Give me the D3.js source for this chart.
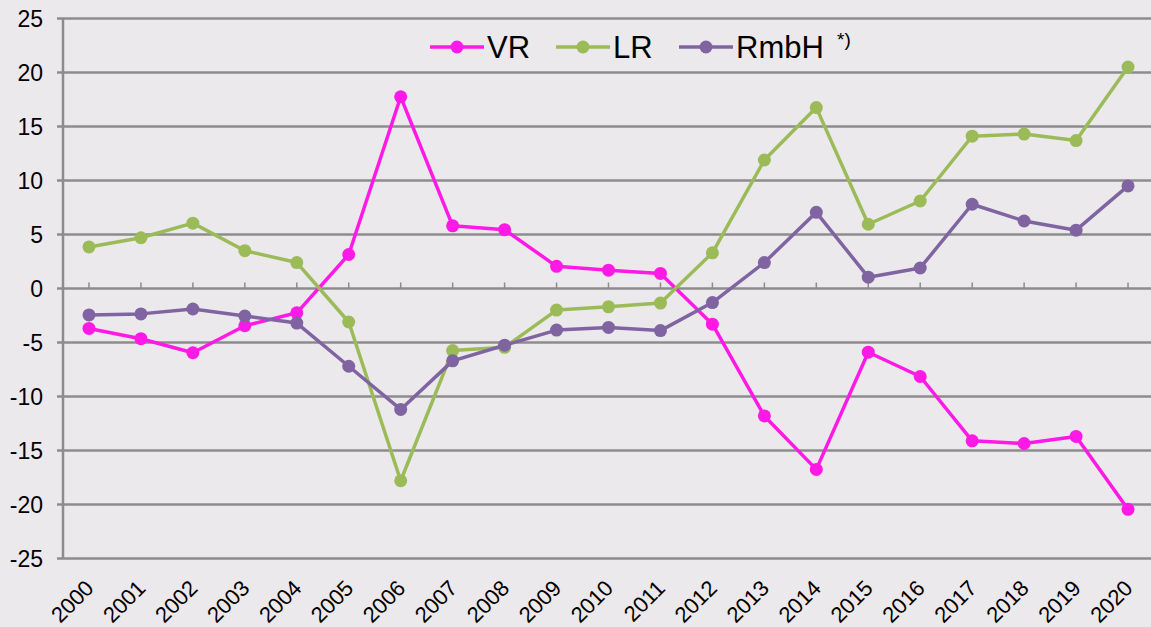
<!DOCTYPE html>
<html>
<head>
<meta charset="utf-8">
<script src="https://cdn.jsdelivr.net/npm/d3@7"></script>
<style>
	html, body { margin: 0; padding: 0; background: #ebe9ec; }
	svg { display: block; font-family: "Liberation Sans", Arial, sans-serif; }
</style>
</head>
<body>
<div id="chart"></div>
<script>
	'use strict';

	var years = ['2000','2001','2002','2003','2004','2005','2006','2007','2008','2009','2010',
		'2011','2012','2013','2014','2015','2016','2017','2018','2019','2020'];

	var vr = [-3.7, -4.65, -5.95, -3.45, -2.25, 3.15, 17.75, 5.8, 5.45, 2.05, 1.7,
		1.4, -3.3, -11.8, -16.75, -5.9, -8.15, -14.1, -14.35, -13.7, -20.45];

	var lr = [3.85, 4.7, 6.05, 3.5, 2.4, -3.1, -17.8, -5.75, -5.45, -2.0, -1.7,
		-1.35, 3.3, 11.9, 16.75, 5.95, 8.1, 14.1, 14.3, 13.7, 20.5];

	var rmbh = [-2.45, -2.35, -1.9, -2.55, -3.2, -7.2, -11.2, -6.7, -5.25, -3.85, -3.6,
		-3.9, -1.3, 2.4, 7.05, 1.05, 1.9, 7.8, 6.25, 5.4, 9.5];

	var yTicks = [25, 20, 15, 10, 5, 0, -5, -10, -15, -20, -25];

	var series = [
		{name: 'VR', values: vr, color: '#ff19e6'},
		{name: 'LR', values: lr, color: '#9bbb59'},
		{name: 'RmbH', values: rmbh, color: '#8064a2', note: '*)'}
	];

	var width = 1151, height = 627;
	var margin = {top: 18.5, right: -3, bottom: 68.5, left: 63};
	var gridColor = '#8c8c8c';

	var svg = d3.select('#chart')
		.append('svg')
		.attr('width', width)
		.attr('height', height);

	svg.append('rect')
		.attr('width', width)
		.attr('height', height)
		.attr('fill', '#ebe9ec');

	var x = d3.scaleBand()
		.domain(years)
		.range([margin.left, width - margin.right]);

	var y = d3.scaleLinear()
		.domain([-25, 25])
		.range([height - margin.bottom, margin.top]);

	var cx = function(i) { return x(years[i]) + x.bandwidth() / 2; };

	// gridlines + left ticks
	svg.selectAll('line.grid')
		.data(yTicks).enter()
		.append('line')
			.attr('class', 'grid')
			.attr('x1', margin.left - 6)
			.attr('x2', width)
			.attr('y1', function(d) { return y(d); })
			.attr('y2', function(d) { return y(d); })
			.attr('stroke', gridColor)
			.attr('stroke-width', 2.5);

	svg.append('line')
		.attr('x1', margin.left)
		.attr('x2', margin.left)
		.attr('y1', y(25))
		.attr('y2', y(-25))
		.attr('stroke', gridColor)
		.attr('stroke-width', 2.5);

	svg.selectAll('text.ylab')
		.data(yTicks).enter()
		.append('text')
			.attr('class', 'ylab')
			.attr('x', 43)
			.attr('y', function(d) { return y(d); })
			.attr('dy', '0.36em')
			.attr('text-anchor', 'end')
			.attr('font-size', 23)
			.attr('fill', '#000')
			.text(function(d) { return d; });

	// category ticks on the zero line
	svg.selectAll('line.xtick')
		.data(years).enter()
		.append('line')
			.attr('class', 'xtick')
			.attr('x1', function(d) { return x(d) + x.bandwidth() / 2; })
			.attr('x2', function(d) { return x(d) + x.bandwidth() / 2; })
			.attr('y1', y(0) - 6)
			.attr('y2', y(0))
			.attr('stroke', gridColor)
			.attr('stroke-width', 1.5);

	svg.selectAll('text.xlab')
		.data(years).enter()
		.append('text')
			.attr('class', 'xlab')
			.attr('text-anchor', 'end')
			.attr('font-size', 22)
			.attr('fill', '#000')
			.attr('transform', function(d) {
				return 'translate(' + (x(d) + x.bandwidth() / 2 + 6) + ',' + (y(-25) + 31) + ') rotate(-45)';
			})
			.text(function(d) { return d; });

	var line = d3.line()
		.x(function(d, i) { return cx(i); })
		.y(function(d) { return y(d); });

	series.forEach(function(s) {
		var g = svg.append('g');
		g.append('path')
			.datum(s.values)
			.attr('d', line)
			.attr('fill', 'none')
			.attr('stroke', s.color)
			.attr('stroke-width', 3.5)
			.attr('stroke-linejoin', 'round');
		g.selectAll('circle')
			.data(s.values).enter()
			.append('circle')
				.attr('cx', function(d, i) { return cx(i); })
				.attr('cy', function(d) { return y(d); })
				.attr('r', 6.5)
				.attr('fill', s.color);
	});

	// legend
	var legendX = [430, 556, 679];
	var legend = svg.selectAll('g.legend')
		.data(series).enter()
		.append('g')
			.attr('class', 'legend')
			.attr('transform', function(d, i) { return 'translate(' + legendX[i] + ',47)'; });

	legend.append('line')
		.attr('x1', 0).attr('x2', 54)
		.attr('stroke', function(d) { return d.color; })
		.attr('stroke-width', 3.5);
	legend.append('circle')
		.attr('cx', 27).attr('r', 6.5)
		.attr('fill', function(d) { return d.color; });
	legend.append('text')
		.attr('x', 57)
		.attr('dy', '0.36em')
		.attr('font-size', 31)
		.attr('fill', '#000')
		.text(function(d) { return d.name; });
	legend.filter(function(d) { return d.note; })
		.append('text')
			.attr('x', 158)
			.attr('y', -1)
			.attr('font-size', 19)
			.attr('fill', '#000')
			.text(function(d) { return d.note; });
</script>
</body>
</html>
